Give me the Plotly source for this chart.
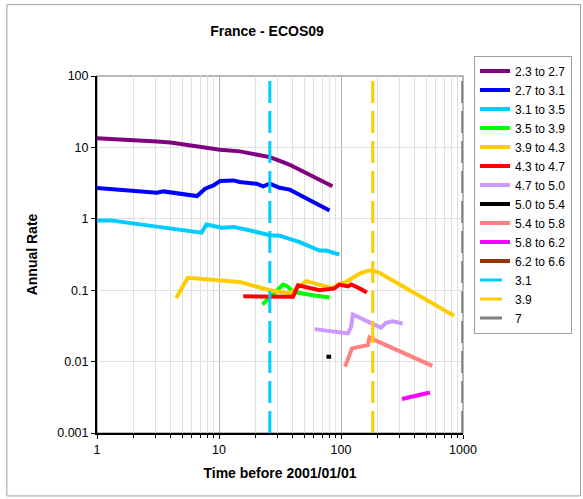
import plotly.graph_objects as go

# Annual rate vs. time before 2001/01/01, by magnitude band
x_23 = [1.0, 2.0, 3.1, 4.0, 5.1, 7.0, 9.0, 10.2, 14.8, 20.3, 26.1, 33.5, 38, 85]
y_23 = [13.4, 12.8, 12.1, 11.7, 11.0, 10.3, 9.6, 9.3, 8.8, 7.9, 7.3, 6.2, 5.7, 2.85]

x_27 = [1.0, 3.1, 3.5, 5.1, 6.6, 7.7, 9.0, 10.2, 13.1, 14.8, 20.3, 23, 26.1, 31.4, 38, 80.5]
y_27 = [2.7, 2.32, 2.42, 2.25, 2.08, 2.64, 2.94, 3.38, 3.45, 3.27, 3.1, 2.85, 3.1, 2.72, 2.56, 1.31]

x_31 = [1.0, 1.29, 7.2, 7.9, 10.5, 13.1, 16.5, 26.1, 31.4, 38, 45.8, 66.7, 75.7, 97]
y_31 = [0.95, 0.95, 0.64, 0.83, 0.75, 0.77, 0.71, 0.59, 0.58, 0.53, 0.47, 0.36, 0.36, 0.315]

x_35 = [22.7, 33.5, 36, 40.4, 58.9, 80.5]
y_35 = [0.063, 0.12, 0.115, 0.095, 0.085, 0.079]

x_39 = [4.46, 5.55, 14.8, 26.1, 38, 52, 86, 94, 110, 121, 142, 161, 182, 206, 845]
y_39 = [0.078, 0.149, 0.13, 0.1, 0.09, 0.134, 0.106, 0.12, 0.13, 0.143, 0.171, 0.185, 0.19, 0.175, 0.044]

x_43 = [15.8, 40.4, 44.4, 66.7, 88.5, 97, 114, 121, 142, 163]
y_43 = [0.082, 0.081, 0.117, 0.1, 0.106, 0.12, 0.113, 0.12, 0.106, 0.093]

x_47 = [60.8, 114, 121, 125, 213, 234, 265, 320]
y_47 = [0.0285, 0.0248, 0.0307, 0.0457, 0.0297, 0.0349, 0.0368, 0.0342]

x_50 = [76, 83]
y_50 = [0.0117, 0.0117]

x_54 = [108, 123, 166, 171, 178, 561]
y_54 = [0.0085, 0.0153, 0.017, 0.0218, 0.021, 0.0087]

x_58 = [316, 535]
y_58 = [0.003, 0.0037]

x_62 = []
y_62 = []

# Vertical reference lines
vline_x = [26.1, 182, 995]
vline_names = ["3.1", "3.9", "7"]
vline_colors = ["#00CCFF", "#FFCC00", "#808080"]

y_ticks = [0.001, 0.01, 0.1, 1, 10, 100]
y_tick_text = ["0.001", "0.01", "0.1", "1", "10", "100"]
x_ticks = [1, 10, 100, 1000]
x_tick_text = ["1", "10", "100", "1000"]

series = [
    ("2.3 to 2.7", x_23, y_23, "#800080"),
    ("2.7 to 3.1", x_27, y_27, "#0000FF"),
    ("3.1 to 3.5", x_31, y_31, "#00CCFF"),
    ("3.5 to 3.9", x_35, y_35, "#00FF00"),
    ("3.9 to 4.3", x_39, y_39, "#FFCC00"),
    ("4.3 to 4.7", x_43, y_43, "#FF0000"),
    ("4.7 to 5.0", x_47, y_47, "#CC99FF"),
    ("5.0 to 5.4", x_50, y_50, "#000000"),
    ("5.4 to 5.8", x_54, y_54, "#FF8080"),
    ("5.8 to 6.2", x_58, y_58, "#FF00FF"),
    ("6.2 to 6.6", x_62, y_62, "#993300"),
]

FONT = "Liberation Sans, Arial, sans-serif"

fig = go.Figure()
for name, xs, ys, col in series:
    fig.add_trace(go.Scatter(
        x=xs if xs else [None], y=ys if ys else [None], mode="lines", name=name,
        line=dict(color=col, width=4),
    ))

for xv, name, col in zip(vline_x, vline_names, vline_colors):
    fig.add_trace(go.Scatter(
        x=[xv, xv], y=[0.001, 100], mode="lines", name=name,
        line=dict(color=col, width=3, dash="22px,8px"),
    ))

fig.update_layout(
    width=583, height=499,
    margin=dict(l=96.5, r=119, t=75.5, b=66),
    paper_bgcolor="white", plot_bgcolor="white",
    font=dict(family=FONT, size=12, color="black"),
    title=dict(text="<b>France - ECOS09</b>", x=267 / 583, xanchor="center",
               y=1 - 31 / 499, yanchor="middle", font=dict(size=14)),
    showlegend=True,
    legend=dict(
        x=(474 - 96.5) / 367.5, y=(433 - 55) / 357.5, xanchor="left", yanchor="top",
        bordercolor="#A0A0A0", borderwidth=1, bgcolor="white",
        font=dict(size=12), tracegroupgap=0, maxheight=420,
    ),
    xaxis=dict(
        type="log", range=[0, 3],
        tickvals=x_ticks, ticktext=x_tick_text,
        showgrid=True, gridcolor="#B0B0B0", gridwidth=1,
        showline=True, linecolor="black", linewidth=2,
        ticks="outside", ticklen=4, tickcolor="black",
        tickfont=dict(size=12.5),
        minor=dict(dtick="D1", showgrid=True, gridcolor="#E0E0E0",
                   ticks="outside", ticklen=3, tickcolor="black"),
        zeroline=False,
        title=dict(text="<b>Time before 2001/01/01</b>", font=dict(size=14), standoff=12),
    ),
    yaxis=dict(
        type="log", range=[-3, 2],
        tickvals=y_ticks, ticktext=y_tick_text,
        showgrid=True, gridcolor="#E0E0E0", gridwidth=1,
        showline=True, linecolor="black", linewidth=2,
        ticks="outside", ticklen=4, tickcolor="black",
        tickfont=dict(size=12.5),
        zeroline=False,
        title=dict(text="<b>Annual Rate</b>", font=dict(size=14), standoff=16),
    ),
    shapes=[
        # plot-area frame (top/right)
        dict(type="rect", xref="paper", yref="paper", x0=0, x1=1, y0=0, y1=1,
             line=dict(color="#A0A0A0", width=1.5), layer="below"),
        # outer chart border
        dict(type="rect", xref="paper", yref="paper",
             x0=(6 - 96.5) / 367.5, x1=(582 - 96.5) / 367.5,
             y0=(433 - 496) / 357.5, y1=(433 - 4) / 357.5,
             line=dict(color="#A0A0A0", width=1), layer="below"),
    ],
)

fig.write_html("out.html")
